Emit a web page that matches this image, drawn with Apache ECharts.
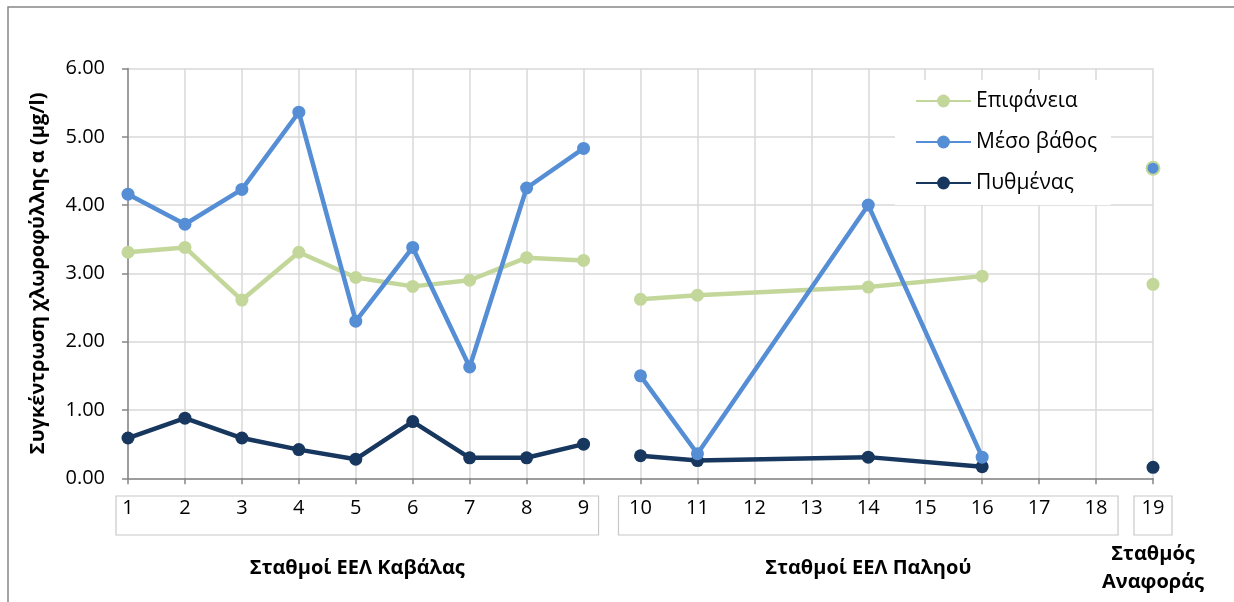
<!DOCTYPE html>
<html>
<head>
<meta charset="utf-8">
<script src="https://cdn.jsdelivr.net/npm/echarts@6/dist/echarts.min.js"></script>
<style>
  html, body { margin: 0; padding: 0; background: #fff; }
  #chart { width: 1234px; height: 602px; }
</style>
</head>
<body>
<div id="chart"></div>
<script>
// Station numbers along the x axis
const stations = ['1','2','3','4','5','6','7','8','9','10','11','12','13','14','15','16','17','18','19'];

// Chlorophyll-a concentration (μg/l) per station; null = not sampled
const surface  = [3.31, 3.38, 2.61, 3.31, 2.94, 2.81, 2.90, 3.23, 3.19, 2.62, 2.68, null, null, 2.80, null, 2.96, null, null, 2.84];
const midDepth = [4.16, 3.72, 4.23, 5.36, 2.30, 3.38, 1.63, 4.25, 4.83, 1.50, 0.36, null, null, 4.00, null, 0.31, null, null, 4.54];
const seabed   = [0.59, 0.88, 0.59, 0.42, 0.28, 0.83, 0.30, 0.30, 0.50, 0.33, 0.26, null, null, 0.31, null, 0.17, null, null, 0.16];

// Station groups (first and last index into stations)
const groupNames = ['Σταθμοί ΕΕΛ Καβάλας', 'Σταθμοί ΕΕΛ Παληού', 'Σταθμός\nΑναφοράς'];
const groupFirst = [0, 9, 18];
const groupLast  = [8, 17, 18];

const seriesNames = ['Επιφάνεια', 'Μέσο βάθος', 'Πυθμένας'];

const FONT = '"Open Sans", "Noto Sans", sans-serif';
const colors = { surface: '#c4d79b', mid: '#558ed5', bed: '#17375e' };

// Keep only one group's values so each group is drawn as its own line
function maskGroup(values, g) {
  return values.map((v, i) => (i >= groupFirst[g] && i <= groupLast[g]) ? v : null);
}

function groupSeries(name, values, color, extraStyle) {
  return groupNames.map((_, g) => ({
    name: name,
    type: 'line',
    data: maskGroup(values, g),
    connectNulls: true,
    symbol: 'circle',
    symbolSize: 13,
    showSymbol: true,
    lineStyle: { color: color, width: 4.5 },
    itemStyle: Object.assign({ color: color }, g === 2 && extraStyle ? extraStyle : {}),
    emphasis: { disabled: true },
    animation: false
  }));
}

const series = [].concat(
  groupSeries(seriesNames[0], surface, colors.surface),
  groupSeries(seriesNames[2], seabed, colors.bed),
  groupSeries(seriesNames[1], midDepth, colors.mid, { borderColor: colors.surface, borderWidth: 2 })
);

const chart = echarts.init(document.getElementById('chart'));

chart.setOption({
  backgroundColor: '#fff',
  animation: false,
  grid: { left: 128, right: 81, top: 68.5, bottom: 123.7, containLabel: false },
  legend: {
    data: seriesNames,
    orient: 'vertical',
    left: 895,
    top: 80,
    padding: [10, 14, 11, 20],
    backgroundColor: '#fff',
    itemWidth: 55,
    itemHeight: 16,
    itemGap: 19,
    textStyle: { fontFamily: FONT, fontSize: 21, color: '#000', lineHeight: 22 },
    selectedMode: false
  },
  xAxis: {
    type: 'category',
    data: stations,
    boundaryGap: false,
    axisLine: { lineStyle: { color: '#868686', width: 1.5 } },
    axisTick: { show: true, length: 6, lineStyle: { color: '#868686', width: 1.5 } },
    axisLabel: { interval: 0, margin: 20, fontFamily: FONT, fontSize: 20, color: '#000' },
    splitLine: { show: true, interval: 0, lineStyle: { color: '#d9d9d9', width: 1.5 } }
  },
  yAxis: {
    type: 'value',
    min: 0,
    max: 6,
    interval: 1,
    name: 'Συγκέντρωση χλωροφύλλης α (μg/l)',
    nameLocation: 'middle',
    nameGap: 80,
    nameTextStyle: { fontFamily: FONT, fontSize: 20, fontWeight: 'bold', color: '#000' },
    axisLine: { show: true, lineStyle: { color: '#868686', width: 1.5 } },
    axisTick: { show: true, length: 6, lineStyle: { color: '#868686', width: 1.5 } },
    axisLabel: { margin: 23, fontFamily: FONT, fontSize: 20, color: '#000', formatter: v => v.toFixed(2) },
    splitLine: { show: true, lineStyle: { color: '#d9d9d9', width: 1.5 } }
  },
  series: series
});

// Boxes round each group's station labels, with the group title beneath
const graphics = [{
  type: 'rect',
  shape: { x: 8, y: 7, width: 1260, height: 620 },
  style: { fill: null, stroke: '#868686', lineWidth: 1.5 },
  silent: true,
  z: 10
}];
const padLeft = [12, 22, 19];
const padRight = [15, 22, 19];
groupNames.forEach((title, g) => {
  const x0 = chart.convertToPixel({ xAxisIndex: 0 }, stations[groupFirst[g]]) - padLeft[g];
  const x1 = chart.convertToPixel({ xAxisIndex: 0 }, stations[groupLast[g]]) + padRight[g];
  graphics.push({
    type: 'rect',
    shape: { x: x0, y: 496, width: x1 - x0, height: 39 },
    style: { fill: null, stroke: '#c8c8c8', lineWidth: 1.2 },
    silent: true,
    z: 10
  });
  graphics.push({
    type: 'text',
    x: (x0 + x1) / 2,
    y: 568,
    style: {
      text: title,
      fontFamily: FONT,
      fontSize: 20,
      fontWeight: 'bold',
      fill: '#000',
      align: 'center',
      verticalAlign: 'middle',
      lineHeight: 28
    },
    silent: true,
    z: 10
  });
});
chart.setOption({ graphic: graphics });
</script>
</body>
</html>
